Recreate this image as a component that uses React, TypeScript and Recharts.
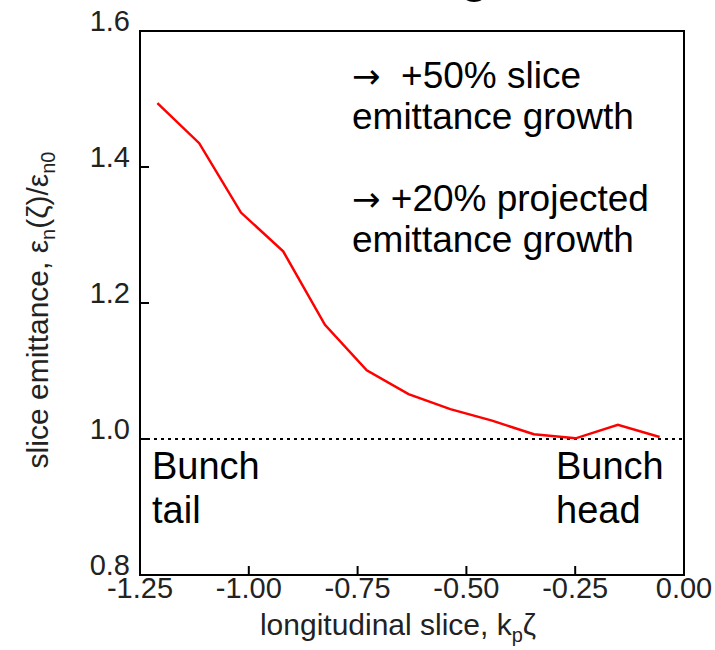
import React from 'react';
import {
  LineChart,
  Line,
  XAxis,
  YAxis,
  ReferenceLine,
  ReferenceArea,
  Customized,
} from 'recharts';

// slice position (k_p ζ) and normalised slice emittance
const sliceX = [-1.21, -1.114, -1.018, -0.921, -0.825, -0.729, -0.633, -0.537, -0.441, -0.345, -0.249, -0.152, -0.056];
const emittance = [1.494, 1.435, 1.333, 1.276, 1.168, 1.101, 1.066, 1.044, 1.027, 1.007, 1.001, 1.021, 1.003];

const xTicks = [-1.25, -1.0, -0.75, -0.5, -0.25, 0];
const yTicks = [0.8, 1.0, 1.2, 1.4, 1.6];

// [arrow, text] per line of the note, arrow left empty on wrapped lines
const noteLines = [
  ['→', '  +50% slice'],
  ['', 'emittance growth'],
  ['→', ' +20% projected'],
  ['', 'emittance growth'],
];

const FONT = '"Liberation Sans", Arial, Helvetica, sans-serif';

const data = sliceX.map((x, i) => ({ x, y: emittance[i] }));

const YTick = (props: any) => {
  const { x, y, payload } = props;
  return (
    <g>
      <line x1={x} y1={y} x2={x + 9} y2={y} stroke="#000" strokeWidth={2} />
      <text x={x - 10} y={y} textAnchor="end" fontSize={29} fill="#222" fontFamily={FONT}>
        {payload.value.toFixed(1)}
      </text>
    </g>
  );
};

const XTick = (props: any) => {
  const { x, y, payload } = props;
  return (
    <g>
      <line x1={x} y1={y} x2={x} y2={y - 9} stroke="#000" strokeWidth={2} />
      <text x={x} y={y + 23} textAnchor="middle" fontSize={29} fill="#222" fontFamily={FONT}>
        {payload.value.toFixed(2)}
      </text>
    </g>
  );
};

const Labels = () => (
  <g fontFamily={FONT}>
    {/* bottom of the slide heading, cut off by the crop */}
    <text x={460} y={-9} fontSize={52} fill="#000">g</text>

    <text x={398} y={635} textAnchor="middle" fontSize={30} fill="#222">
      longitudinal slice, k
      <tspan fontSize={20} dy={7}>p</tspan>
      <tspan dy={-7}>ζ</tspan>
    </text>

    <text transform="rotate(-90)" x={-310} y={48} textAnchor="middle" fontSize={30} fill="#222">
      slice emittance, ε
      <tspan fontSize={20} dy={7}>n</tspan>
      <tspan dy={-7}>(ζ)/ε</tspan>
      <tspan fontSize={20} dy={7}>n0</tspan>
    </text>

    {noteLines.map(([arrow, t], i) => (
      <text key={i} x={352} y={[88, 129, 211, 252][i]} fontSize={37} fill="#000" style={{ whiteSpace: 'pre' }}>
        {arrow && <tspan fontFamily='"DejaVu Sans", sans-serif' fontSize={34}>{arrow}</tspan>}
        <tspan>{t}</tspan>
      </text>
    ))}

    <text x={152} y={479} fontSize={38} fill="#000">Bunch</text>
    <text x={152} y={523} fontSize={38} fill="#000">tail</text>
    <text x={556} y={479} fontSize={38} fill="#000">Bunch</text>
    <text x={556} y={523} fontSize={38} fill="#000">head</text>
  </g>
);

export default function App() {
  return (
    <div style={{ position: 'absolute', left: 0, top: 0, background: '#fff' }}>
      <LineChart width={715} height={650} data={data} margin={{ top: 31, right: 31, bottom: 0, left: 0 }}>
        <XAxis
          dataKey="x"
          type="number"
          domain={[-1.25, 0]}
          ticks={xTicks}
          height={75}
          tickSize={0}
          tickMargin={0}
          tickLine={false}
          axisLine={{ stroke: '#000', strokeWidth: 2 }}
          tick={<XTick />}
          interval={0}
        />
        <YAxis
          type="number"
          domain={[0.8, 1.6]}
          ticks={yTicks}
          width={140}
          tickSize={0}
          tickMargin={0}
          tickLine={false}
          axisLine={{ stroke: '#000', strokeWidth: 2 }}
          tick={<YTick />}
          interval={0}
        />
        <ReferenceArea
          x1={-1.25}
          x2={0}
          y1={0.8}
          y2={1.6}
          fill="none"
          fillOpacity={0}
          stroke="#000"
          strokeWidth={2}
          ifOverflow="visible"
        />
        <ReferenceLine y={1} stroke="#000" strokeWidth={2} strokeDasharray="3 4" />
        <Line
          dataKey="y"
          stroke="#ff0000"
          strokeWidth={2.5}
          dot={false}
          isAnimationActive={false}
        />
        <Customized component={Labels} />
      </LineChart>
    </div>
  );
}
